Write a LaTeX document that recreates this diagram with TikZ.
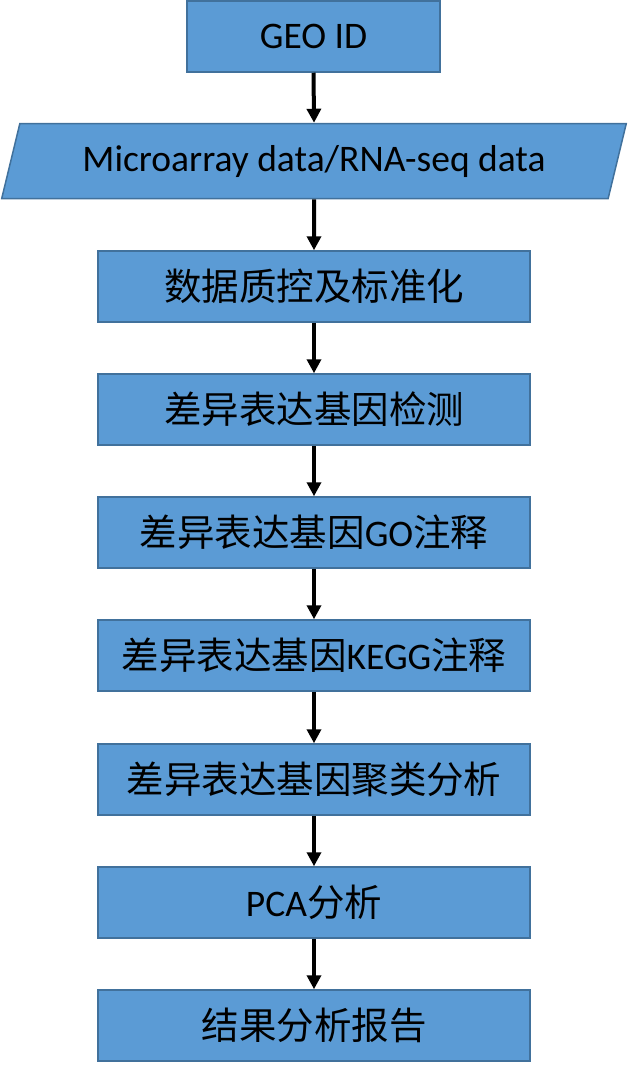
\documentclass[tikz,border=0pt]{standalone}
\usepackage{fontspec}
\setmainfont{Carlito}
\newfontfamily\cjk{Noto Sans CJK SC}
\usetikzlibrary{arrows.meta,shapes.geometric}
\definecolor{boxfill}{HTML}{5B9BD5}
\definecolor{boxline}{HTML}{41719C}
\tikzset{
  stepbox/.style={draw=boxline,fill=boxfill,line width=1.5pt,minimum width=432pt,
    minimum height=71pt,inner sep=0pt,font=\fontsize{37.5}{44}\selectfont},
  flow/.style={line width=4pt,-{Triangle[width=14pt,length=14pt]}}
}
\begin{document}
\begin{tikzpicture}[x=1pt,y=-1pt]
	\useasboundingbox (0,0) rectangle (628,1069);
	% boxes
	\node[stepbox,minimum width=253pt] (geo) at (313.5,36.5) {GEO ID};
	\node[stepbox,trapezium,trapezium left angle=66,trapezium right angle=114,
	  minimum width=626pt,minimum height=75pt,trapezium stretches=true] (raw) at (314,161)
	  {Microarray data/RNA-seq data};
	\node[stepbox] (qc) at (314,286.5) {{\cjk 数据质控及标准化}};
	\node[stepbox] (deg) at (314,409.5) {{\cjk 差异表达基因检测}};
	\node[stepbox] (go) at (314,532.5) {{\cjk 差异表达基因}GO{\cjk 注释}};
	\node[stepbox] (kegg) at (314,655.5) {{\cjk 差异表达基因}KEGG{\cjk 注释}};
	\node[stepbox] (clus) at (314,779.5) {{\cjk 差异表达基因聚类分析}};
	\node[stepbox] (pca) at (314,902.5) {PCA{\cjk 分析}};
	\node[stepbox] (rep) at (314,1025.5) {{\cjk 结果分析报告}};
	% arrows
	\foreach \a/\b in {geo/raw,raw/qc,qc/deg,deg/go,go/kegg,kegg/clus,clus/pca,pca/rep}
	  \draw[flow] (\a.south) -- (\b.north);
\end{tikzpicture}
\end{document}
